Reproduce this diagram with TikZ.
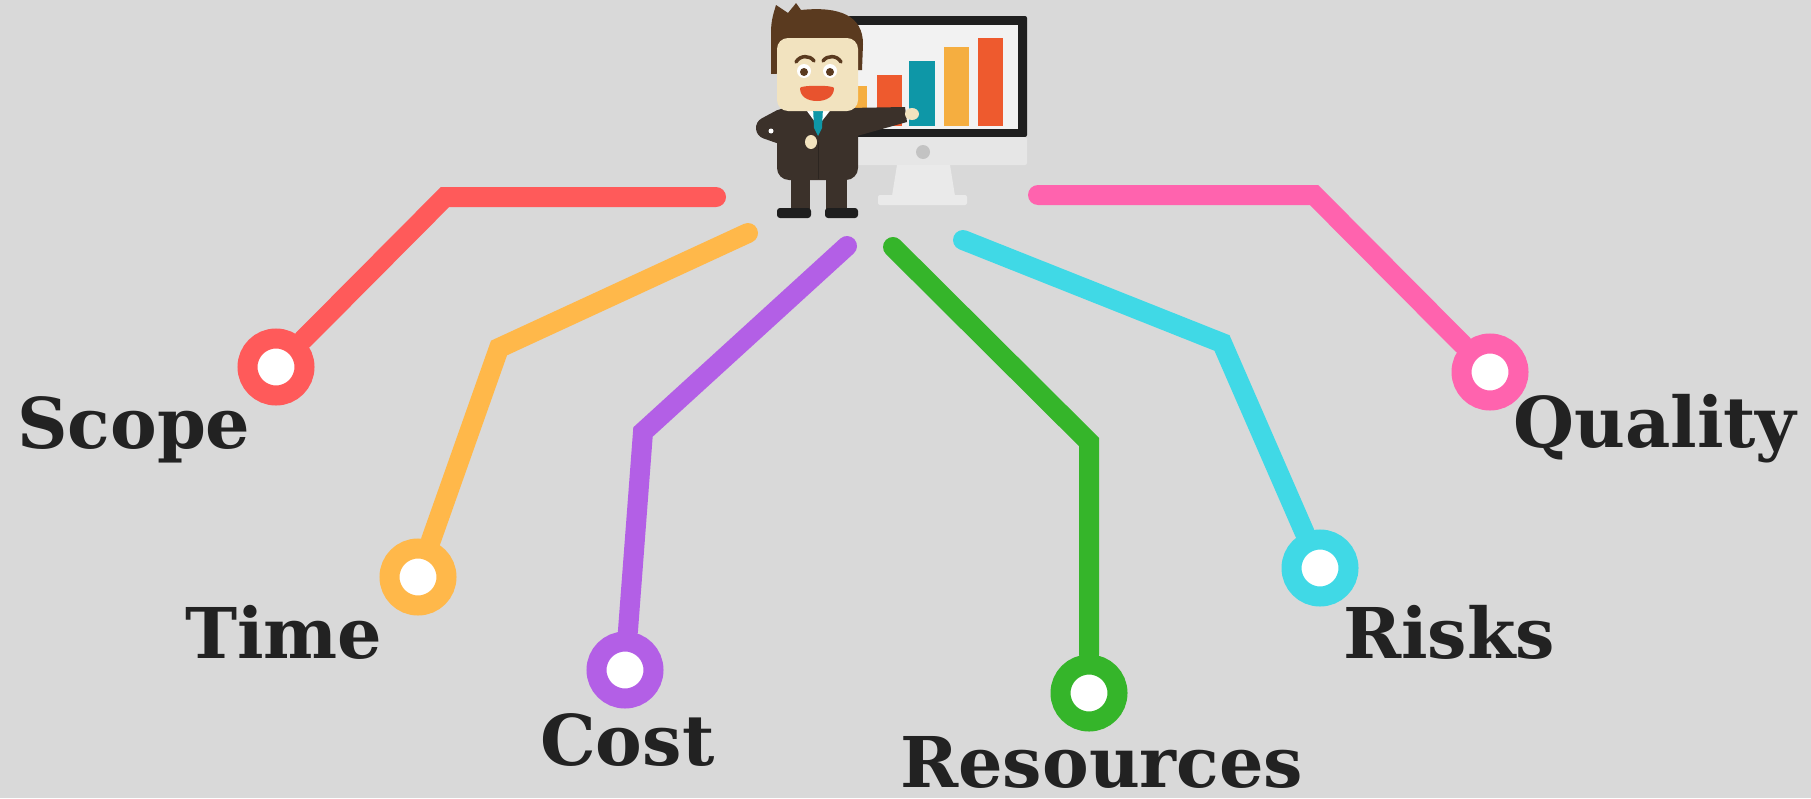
\documentclass[tikz,border=0pt]{standalone}
\usepackage{fontspec}
\newfontfamily\labelfont{DejaVu Serif}
\definecolor{nen}{HTML}{D9D9D9}
\definecolor{ink}{HTML}{222222}
\definecolor{redline}{HTML}{FF5A5A}
\definecolor{orangeline}{HTML}{FFB84A}
\definecolor{purpleline}{HTML}{B35FE6}
\definecolor{greenline}{HTML}{35B52A}
\definecolor{cyanline}{HTML}{40D9E6}
\definecolor{pinkline}{HTML}{FF63AE}
\definecolor{hair}{HTML}{5A3A1F}
\definecolor{skin}{HTML}{F2E3BF}
\definecolor{suit}{HTML}{3B312A}
\definecolor{shoe}{HTML}{1E1E1E}
\definecolor{mouth}{HTML}{E8532E}
\definecolor{tie}{HTML}{0E97A7}
\definecolor{barred}{HTML}{EE5A2E}
\definecolor{barorange}{HTML}{F5AE40}
\definecolor{frame}{HTML}{1F1F1F}
\definecolor{screen}{HTML}{F2F2F2}
\definecolor{chin}{HTML}{E6E6E6}
\definecolor{stand}{HTML}{EAEAEA}
\tikzset{
  branch/.style={draw=#1, line width=20pt, line cap=round},
  ring/.style={circle, draw=#1, fill=white, line width=20pt, minimum size=57pt, inner sep=0pt},
  lbl/.style={anchor=base west, inner sep=0pt, text=ink, font=\labelfont\fontsize{70}{76}\selectfont\bfseries}
}
\begin{document}
\begin{tikzpicture}[x=1pt,y=-1pt]
	%Nen
	\fill[nen] (0,0) rectangle (1811,798);
	\useasboundingbox (0,0) rectangle (1811,798);
	%Man hinh
	\fill[frame, rounded corners=2pt] (848,16) rectangle (1027,137);
	\fill[screen] (857,25) rectangle (1018,129);
	\fill[barorange] (845,86) rectangle (867,126);
	\fill[barred] (877,75) rectangle (902,126);
	\fill[tie] (909,61) rectangle (935,126);
	\fill[barorange] (944,47) rectangle (969,126);
	\fill[barred] (978,38) rectangle (1003,126);
	\fill[chin, rounded corners=2pt] (848,137) rectangle (1027,165);
	\fill[nen!90!black] (923,152) circle (7);
	\fill[stand] (897,165) -- (950,165) -- (955,196) -- (892,196) -- cycle;
	\fill[stand, rounded corners=2pt] (878,195) rectangle (967,205);
	%Nhan vat
	\fill[suit] (791,172) rectangle (810,212);
	\fill[suit] (826,172) rectangle (847,212);
	\fill[shoe, rounded corners=3pt] (777,208) rectangle (811,218);
	\fill[shoe, rounded corners=3pt] (825,208) rectangle (858,218);
	\fill[suit, rounded corners=12pt] (777,106) rectangle (858,180);
	\draw[suit!75!black, line width=1pt] (818,142) -- (818,179);
	\draw[suit, line width=22pt, line cap=round, line join=round] (782,120) -- (767,128) -- (804,141);
	\fill[white] (771,131) circle (2.5);
	\fill[skin] (811,142) ellipse [x radius=6, y radius=7];
	\fill[suit] (848,108) -- (905,107) -- (907,122) -- (857,136) -- cycle;
	\fill[skin] (912,114) ellipse [x radius=7, y radius=6];
	\fill[white] (804,107) -- (833,107) -- (818,126) -- cycle;
	\fill[tie] (813,107) -- (823,107) -- (822,128) -- (818,136) -- (814,128) -- cycle;
	%Dau
	\fill[hair] (771,74) -- (771,32) .. controls (771,20) and (774,12) .. (776,5)
		-- (788,13) .. controls (791,9) and (794,6) .. (796,3) -- (801,10)
		.. controls (840,6) and (863,16) .. (863,44) -- (862,70) -- cycle;
	\fill[skin, rounded corners=11pt] (777,38) rectangle (858,111);
	\draw[hair, line width=3.5pt, line cap=round] (796,62) .. controls (800,55) and (810,55) .. (814,61);
	\draw[hair, line width=3.5pt, line cap=round] (823,61) .. controls (827,55) and (837,55) .. (841,62);
	\fill[white] (804,71) circle (7);
	\fill[white] (830,71) circle (7);
	\fill[hair] (804,72) circle (4);
	\fill[hair] (830,72) circle (4);
	\fill[mouth] (800,88) .. controls (800,85) and (834,85) .. (834,88)
		.. controls (834,97) and (826,101) .. (817,101)
		.. controls (808,101) and (800,97) .. (800,88) -- cycle;
	%Vong tron
	\node[ring=redline] (scope) at (276,367) {};
	\node[ring=orangeline] (time) at (418,577) {};
	\node[ring=purpleline] (cost) at (625,670) {};
	\node[ring=greenline] (resources) at (1089,693) {};
	\node[ring=cyanline] (risks) at (1320,568) {};
	\node[ring=pinkline] (quality) at (1490,372) {};
	%Diem dau va goc
	\coordinate (s1) at (716,197); \coordinate (k1) at (445,197);
	\coordinate (s2) at (748,233); \coordinate (k2) at (499,348);
	\coordinate (s3) at (847,246); \coordinate (k3) at (643,432);
	\coordinate (s4) at (893,247); \coordinate (k4) at (1089,442);
	\coordinate (s5) at (963,240); \coordinate (k5) at (1222,343);
	\coordinate (s6) at (1038,195); \coordinate (k6) at (1314,195);
	%Nhanh
	\draw[branch=redline] (s1) -- (k1) -- (scope);
	\draw[branch=orangeline] (s2) -- (k2) -- (time);
	\draw[branch=purpleline] (s3) -- (k3) -- (cost);
	\draw[branch=greenline] (s4) -- (k4) -- (resources);
	\draw[branch=cyanline] (s5) -- (k5) -- (risks);
	\draw[branch=pinkline] (s6) -- (k6) -- (quality);
	%Chu
	\node[lbl] (tScope) at (17,448) {Scope};
	\node[lbl] (tTime) at (185,658) {Time};
	\node[lbl] (tCost) at (540,765) {Cost};
	\node[lbl] (tResources) at (900,787) {Resources};
	\node[lbl] (tRisks) at (1343,658) {Risks};
	\node[lbl] (tQuality) at (1513,447) {Quality};
\end{tikzpicture}
\end{document}
